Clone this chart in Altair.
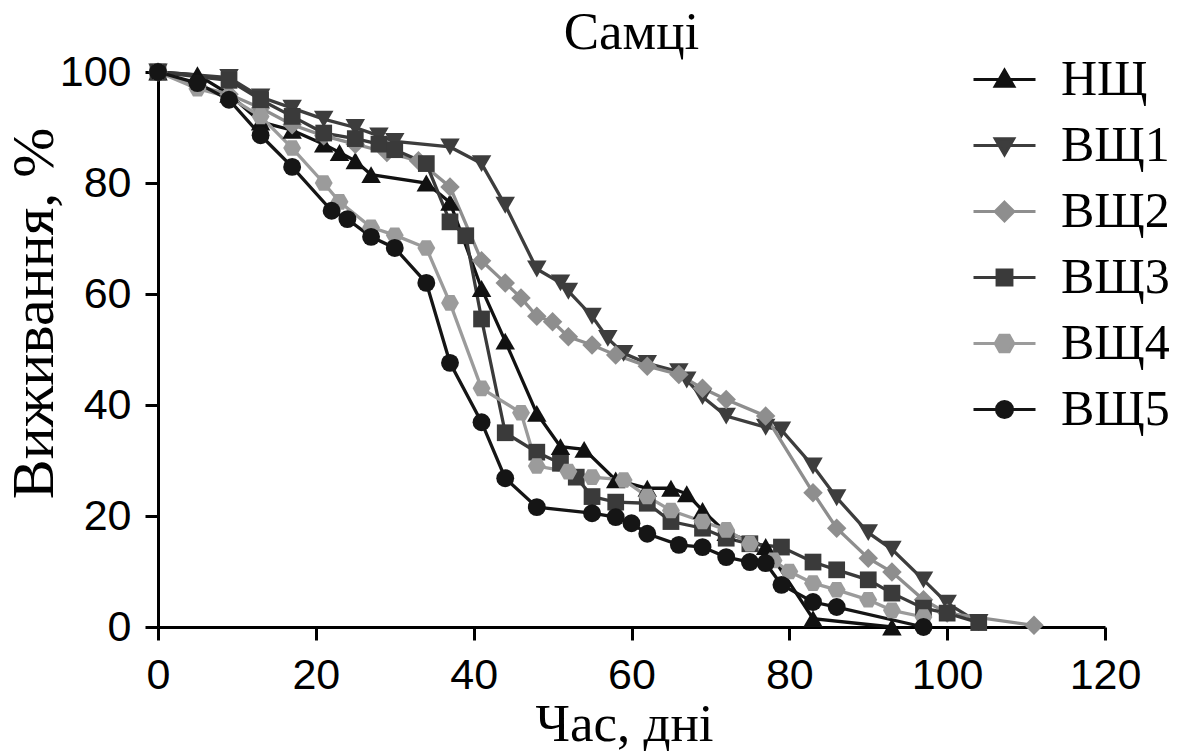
import altair as alt
import pandas as pd

series = ["НЩ", "ВЩ1", "ВЩ2", "ВЩ3", "ВЩ4", "ВЩ5"]
colors = ["#111111", "#3d3d3d", "#8e8e8e", "#3a3a3a", "#9b9b9b", "#151515"]

x_nc = [0, 5, 9, 13, 17, 21, 23, 25, 27, 34, 37, 41, 44, 48, 51, 54, 58, 62, 65, 67, 69, 72, 77, 83, 93]
y_nc = [100, 99.5, 96, 91, 89.5, 87, 85.5, 84, 81.5, 80, 76.5, 61, 51.5, 38.5, 32.5, 32, 26.5, 25, 25, 24, 21, 17, 14.5, 1.5, 0]

x_v1 = [0, 9, 13, 17, 21, 25, 28, 30, 37, 41, 44, 48, 51, 52, 55, 57, 59, 62, 66, 67, 69, 72, 77, 79, 83, 86, 90, 93, 97, 100, 104]
y_v1 = [100, 99, 95.5, 93.5, 91.5, 90, 88.5, 87.5, 86.5, 83.5, 76, 64.5, 62, 60.5, 56, 52, 49.3, 47.5, 46, 44.5, 41.5, 38, 36, 35.5, 29, 23.3, 17, 14, 8.5, 4.3, 0.8]

x_v2 = [0, 5, 9, 13, 17, 21, 25, 29, 33, 37, 41, 44, 46, 48, 50, 52, 55, 58, 62, 66, 69, 72, 77, 83, 86, 90, 93, 97, 100, 111]
y_v2 = [100, 97.5, 96, 93.5, 90.5, 88.5, 87, 85.5, 84, 79.3, 66, 62, 59.3, 56, 55, 52.3, 50.8, 49, 47, 45.5, 43, 41, 38, 24.2, 17.8, 12.4, 9.9, 4.9, 2.5, 0.3]

x_v3 = [0, 9, 13, 17, 21, 25, 28, 30, 34, 37, 39, 41, 44, 48, 51, 53, 55, 58, 62, 65, 69, 72, 75, 79, 83, 86, 90, 93, 97, 100, 104]
y_v3 = [100, 98.5, 95, 92, 89, 88, 87, 86, 83.5, 73, 70.5, 55.5, 35, 31.5, 29.5, 27, 23.5, 22.5, 22.3, 19, 17.8, 16, 15, 14.4, 11.7, 10.3, 8.5, 6.1, 3.4, 2.5, 0.8]

x_v4 = [0, 5, 9, 13, 17, 21, 23, 27, 30, 34, 37, 41, 46, 48, 52, 55, 59, 62, 65, 69, 72, 75, 78, 80, 83, 86, 90, 93, 97]
y_v4 = [100, 97, 95.5, 92, 86.3, 80, 76.6, 72, 70.6, 68.3, 58.4, 43, 38.6, 29, 28, 27, 26.5, 23.5, 21, 19, 17.5, 15, 12, 10, 7.9, 6.7, 4.9, 3, 1.8]

x_v5 = [0, 5, 9, 13, 17, 22, 24, 27, 30, 34, 37, 41, 44, 48, 55, 58, 60, 62, 66, 69, 72, 75, 77, 79, 83, 86, 97]
y_v5 = [100, 98, 95, 88.6, 82.9, 75, 73.5, 70.3, 68.3, 62, 47.6, 36.9, 26.8, 21.6, 20.5, 19.8, 18.7, 16.8, 14.8, 14.4, 12.6, 11.7, 11.5, 7.6, 4.5, 3.6, 0]

xs_all = [x_nc, x_v1, x_v2, x_v3, x_v4, x_v5]
ys_all = [y_nc, y_v1, y_v2, y_v3, y_v4, y_v5]

rows = []
for name, xs, ys in zip(series, xs_all, ys_all):
    for i, (xv, yv) in enumerate(zip(xs, ys)):
        rows.append({"series": name, "day": xv, "surv": yv, "idx": i})
df = pd.DataFrame(rows)

# marker shapes in the plot
hexagon = "M-0.5,-0.87L0.5,-0.87L1,0L0.5,0.87L-0.5,0.87L-1,0Z"
mark_shapes = ["triangle-up", "triangle-down", "diamond", "square", hexagon, "circle"]
mark_sizes = [380, 380, 380, 280, 320, 320]

# legend symbols: line + marker
legend_paths = [
    "M-1,0H1M0,-0.3L0.3,0.22L-0.3,0.22Z",
    "M-1,0H1M0,0.3L0.3,-0.22L-0.3,-0.22Z",
    "M-1,0H1M0,-0.3L0.3,0L0,0.3L-0.3,0Z",
    "M-1,0H1M-0.24,-0.24H0.24V0.24H-0.24Z",
    "M-1,0H1M-0.15,-0.27L0.15,-0.27L0.3,0L0.15,0.27L-0.15,0.27L-0.3,0Z",
    "M-1,0H1M-0.26,0A0.26,0.26 0 1,0 0.26,0A0.26,0.26 0 1,0 -0.26,0Z",
]

x_enc = alt.X("day:Q", scale=alt.Scale(domain=[0, 120], nice=False),
              axis=alt.Axis(values=[0, 20, 40, 60, 80, 100, 120], title="Час, дні",
                            titleX=466, titleY=113, titleBaseline="alphabetic",
                            titleAlign="center", labelFlush=False))
y_enc = alt.Y("surv:Q", scale=alt.Scale(domain=[0, 100], nice=False),
              axis=alt.Axis(values=[0, 20, 40, 60, 80, 100], title="Виживання, %",
                            titleX=-106, titleY=241, titleBaseline="alphabetic",
                            titleAlign="center", titleAngle=270, titleFontSize=60,
                            labelFlush=False))

base = alt.Chart(df)

line_layers = []
point_layers = []
for name, col, shp, sz in zip(series, colors, mark_shapes, mark_sizes):
    sub = base.transform_filter(alt.datum.series == name)
    line_layers.append(
        sub.mark_line(strokeWidth=3.3, color=col).encode(x=x_enc, y=y_enc, order="idx:Q")
    )
    point_layers.append(
        sub.mark_point(filled=True, opacity=1, shape=shp, size=sz, color=col)
        .encode(x=x_enc, y=y_enc)
    )

leg = alt.Legend(title=None, orient="none", legendX=814, legendY=-25,
                 labelFont="Liberation Serif", labelFontSize=50, labelColor="black",
                 symbolSize=3844, symbolStrokeWidth=3, labelOffset=24,
                 rowPadding=8, padding=0, symbolOpacity=1)

legend_layer = base.transform_filter("false").mark_point(filled=True, opacity=1).encode(
    shape=alt.Shape("series:N", scale=alt.Scale(domain=series, range=legend_paths), legend=leg),
    fill=alt.Fill("series:N", scale=alt.Scale(domain=series, range=colors), legend=leg),
    stroke=alt.Stroke("series:N", scale=alt.Scale(domain=series, range=colors), legend=leg),
)

chart = alt.layer(*line_layers, *point_layers, legend_layer).properties(
    width=947, height=555,
    background="white",
    title=alt.TitleParams("Самці", font="Liberation Serif", fontSize=53, fontWeight="normal",
                          color="black", anchor="middle", frame="group", baseline="alphabetic",
                          offset=-55),
    padding={"left": 158, "top": 72, "right": 89, "bottom": 124},
    autosize=alt.AutoSizeParams(type="none"),
).configure_view(stroke=None).configure_axis(
    domainColor="black", domainWidth=3, tickColor="black", tickWidth=3, tickSize=13,
    labelFont="Liberation Sans", labelFontSize=43, labelColor="black", labelPadding=14,
    titleFont="Liberation Serif", titleFontSize=53, titleFontWeight="normal", titleColor="black",
    grid=False,
)

chart.save("out.html", embed_options={"renderer": "svg", "actions": False})
